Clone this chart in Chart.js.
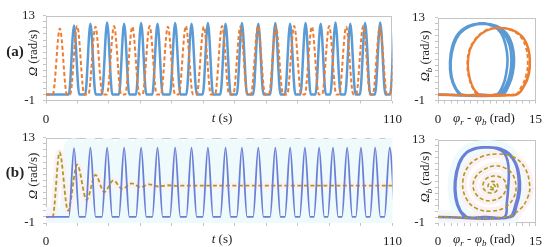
<!DOCTYPE html>
<html>
<head>
<meta charset="utf-8">
<script src="https://cdn.jsdelivr.net/npm/chart.js@4.4.1/dist/chart.umd.min.js"></script>
<style>
  body { margin: 0; width: 550px; height: 247px; background: #fff; position: relative; overflow: hidden;
         font-family: "Liberation Serif", "DejaVu Serif", serif; color: #222; }
  canvas { position: absolute; }
  .lbl { position: absolute; font-size: 13px; line-height: 1; white-space: nowrap; transform: translate(-50%, -50%); }
  .rot { transform: translate(-50%, -50%) rotate(-90deg); }
  .tag { font-weight: bold; font-size: 15px; }
  sub { font-size: 9px; vertical-align: -3px; line-height: 0; }
</style>
</head>
<body>
<canvas id="timeA" width="410" height="124" style="left:0;top:0"></canvas>
<canvas id="phaseA" width="145" height="124" style="left:405px;top:0"></canvas>
<canvas id="timeB" width="410" height="124" style="left:0;top:121.5px"></canvas>
<canvas id="phaseB" width="145" height="124" style="left:405px;top:121.5px"></canvas>

<div class="lbl tag" style="left:15px;top:51px">(a)</div>
<div class="lbl rot" style="left:32px;top:53px"><i>Ω</i> (rad/s)</div>
<div class="lbl" style="left:222px;top:117px"><i>t</i> (s)</div>
<div class="lbl rot" style="left:424px;top:56px"><i>Ω<sub>b</sub></i> (rad/s)</div>
<div class="lbl" style="left:484px;top:117px"><i>φ<sub>r</sub></i> - <i>φ<sub>b</sub></i> (rad)</div>

<div class="lbl tag" style="left:15px;top:172px">(b)</div>
<div class="lbl rot" style="left:32px;top:176px"><i>Ω</i> (rad/s)</div>
<div class="lbl" style="left:222px;top:238px"><i>t</i> (s)</div>
<div class="lbl rot" style="left:424px;top:177px"><i>Ω<sub>b</sub></i> (rad/s)</div>
<div class="lbl" style="left:484px;top:238px"><i>φ<sub>r</sub></i> - <i>φ<sub>b</sub></i> (rad)</div>

<script>
// ---- data ----

// (a) time response: peak times (s) and peak speeds (rad/s) of each swing
const aBluePeakT = [8.9, 14.1, 19.4, 24.8, 30.2, 35.4, 41.0, 46.2, 51.4, 57.0, 62.2, 67.4, 72.8,
                    77.5, 82.4, 87.2, 91.9, 96.6, 101.3, 106.1, 110.9];
const aBluePeakV = [11.4, 11.7, 11.9, 11.7, 11.8, 11.7, 11.8, 11.7, 11.8, 11.7, 11.8, 11.7, 11.8,
                    11.7, 11.8, 11.7, 11.9, 11.7, 11.8, 11.9, 11.8];
const aBlueHalf = 1.65;     // time from rest to peak
const aOrangePeakT = [4.4, 9.9, 15.7, 21.6, 27.4, 32.9, 38.7, 44.4, 50.1, 55.9, 61.7, 67.3, 73.0,
                      78.8, 84.4, 89.9, 95.3, 100.7, 106.0, 111.4];
const aOrangePeakV = [10.9, 11.3, 11.2, 11.3, 11.2, 11.3, 11.2, 11.3, 11.2, 11.3, 11.2, 11.3, 11.2,
                      11.3, 11.2, 11.3, 11.2, 11.3, 11.2, 11.3];
const aOrangeHalf = 2.25;

// (b) time response
const bBluePeakT = [8.9, 14.1, 19.4, 24.8, 30.2, 35.4, 41.0, 46.2, 51.4, 57.0, 62.2, 67.4, 72.8,
                    77.5, 82.2, 86.7, 91.1, 95.6, 100.0, 104.5, 109.1];
const bBluePeakV = [11.3, 11.4, 11.4, 11.4, 11.4, 11.4, 11.4, 11.4, 11.4, 11.4, 11.4, 11.4, 11.4,
                    11.4, 11.4, 11.4, 11.4, 11.4, 11.4, 11.4, 11.4];
const bBlueHalf = 1.65;
const bOliveT = [0, 2.1, 4.3, 7.0, 9.9, 12.9, 15.7, 18.5, 21.4, 24.2, 27.2, 30.0, 32.8, 35.7, 38.6, 41.5, 44.5, 110];
const bOliveV = [0, 0, 10.6, 1.0, 8.6, 2.8, 6.9, 4.1, 6.0, 4.6, 5.5, 4.9, 5.35, 5.0, 5.2, 5.1, 5.15, 5.15];

// (a) phase portrait, [phi_r - phi_b, Omega_b]
const aPhaseBlue = [[0,0],[9.8,0],[10.9,1.6],[11.5,3.6],[11.7,6.0],[11.4,8.4],[10.5,10.4],[9.0,11.6],[7.0,12.0],
  [5.0,11.6],[3.4,10.4],[2.4,8.3],[1.95,5.6],[2.1,3.0],[2.7,1.2],[3.6,0],[6.5,0],[9.0,0],[10.0,1.6],[10.5,3.6],
  [10.7,6.0],[10.4,8.4],[9.7,10.4],[8.5,11.6],[6.6,12.0],[4.6,11.6],[3.1,10.3],[2.2,8.2],[1.85,5.6],[2.0,3.0],
  [2.6,1.2],[3.5,0],[6.5,0],[9.4,0],[10.5,1.6],[11.1,3.6],[11.3,6.0],[11.0,8.4],[10.1,10.4],[8.8,11.6],[6.8,12.0],
  [4.8,11.6],[3.2,10.4],[2.3,8.3],[1.9,5.6],[2.05,3.0],[2.65,1.2],[3.55,0]];
const aPhaseOrange = [[0,0],[12.0,0],[13.2,1.5],[13.9,3.5],[14.1,5.8],[13.8,8.0],[12.9,9.9],[11.3,11.0],[9.2,11.3],
  [7.4,10.8],[5.9,9.5],[4.9,7.5],[4.6,5.0],[4.9,2.7],[5.5,1.0],[6.3,0],[9.0,0],[12.1,0],[13.3,1.5],[14.0,3.5],
  [14.15,5.8],[13.85,8.0],[12.9,9.9],[11.3,11.0],[9.2,11.3],[7.4,10.8],[5.9,9.5],[4.9,7.5],[4.6,5.0],[4.9,2.7],
  [5.5,1.0],[6.3,0]];
const aPhaseOrangeDash = [[0,0],[11.7,0],[12.9,1.5],[13.6,3.5],[13.8,5.8],[13.5,8.0],[12.6,9.9],[11.0,11.0],[9.0,11.3],
  [7.2,10.8],[5.8,9.5],[4.8,7.5],[4.5,5.0],[4.8,2.7],[5.4,1.0],[6.2,0],[9.0,0],[11.8,0]];

// (b) phase portrait
const bPhaseBlue = [[0,0],[11.2,0],[12.1,2.0],[12.6,4.5],[12.5,7.0],[12.0,9.0],[11.0,10.6],[9.6,11.5],[7.8,11.7],
  [6.0,11.6],[4.4,10.8],[3.3,9.0],[2.7,6.0],[2.8,3.2],[3.4,1.2],[4.4,0],[7.0,0],[10.2,0],[10.6,2.5],[10.8,5.0],
  [10.9,7.5],[10.7,9.5],[10.1,10.9],[9.1,11.5],[7.7,11.7],[5.9,11.6],[4.3,10.8],[3.2,9.0],[2.6,6.0],[2.7,3.2],
  [3.3,1.2],[4.3,0],[7.5,0],[11.0,0],[11.9,2.0],[12.4,4.5],[12.35,7.0],[11.9,9.0],[10.9,10.6],[9.5,11.5],[7.7,11.75],
  [5.9,11.6],[4.3,10.8],[3.2,9.0],[2.6,6.0],[2.75,3.2],[3.35,1.2],[4.4,0]];
const bPhaseOlive = [[0,0],[10.5,0],[12.6,1.3],[13.8,3.3],[14.1,5.4],[13.3,8.4],[11.6,10.1],[9.2,10.6],[6.6,10.1],
  [4.7,8.6],[3.8,5.8],[4.4,3.0],[6.0,1.4],[8.2,1.0],[10.3,1.6],[11.6,3.2],[12.0,5.1],[11.4,7.3],[10.0,8.4],[8.6,8.6],
  [7.1,8.0],[5.9,6.9],[5.4,5.3],[5.9,3.8],[7.0,2.9],[8.4,2.8],[9.6,3.3],[10.3,4.2],[10.5,5.2],[10.2,6.2],[9.4,6.8],
  [8.5,6.9],[7.6,6.6],[7.1,6.0],[6.9,5.2],[7.2,4.5],[7.8,4.1],[8.5,4.1],[9.0,4.4],[9.2,5.1],[9.0,5.7],[8.5,6.0],
  [8.0,5.8],[7.7,5.3],[7.9,4.8],[8.4,4.6],[8.75,4.9],[8.75,5.3],[8.45,5.5],[8.15,5.3],[8.2,5.0],[8.45,4.9],[8.6,5.1],[8.45,5.2]];

// axis ranges and labelled ticks
const omegaRange = [-1, 13];
const omegaLabels = [-1, 13];
const timeRange = [0, 110];
const timeLabels = [0, 110];
const phaseRange = [0, 15];
const phaseLabels = [0, 15];

// ---- helpers ----
function pulses(peakT, peakV, half) {
  const pts = [{ x: 0, y: 0 }];
  peakT.forEach((t, i) => {
    pts.push({ x: t - half, y: 0 }, { x: t, y: peakV[i] }, { x: t + half, y: 0 });
  });
  return pts;
}
const toXY = arr => arr.map(p => ({ x: p[0], y: p[1] }));
const zip = (xs, ys) => xs.map((x, i) => ({ x: x, y: ys[i] }));

const framePlugin = {
  id: 'frame',
  beforeDatasetsDraw(chart) {
    const a = chart.chartArea;
    const ctx = chart.ctx;
    ctx.save();
    ctx.strokeStyle = '#c4c4c4';
    ctx.lineWidth = 1;
    ctx.strokeRect(Math.round(a.left) + 0.5, Math.round(a.top) + 0.5,
                   Math.round(a.right - a.left) - 1, Math.round(a.bottom - a.top) - 1);
    ctx.restore();
  }
};

// the scale boxes get a fixed size so the plot areas line up with the figure
function axis(range, step, shown, size, horizontal, pad) {
  return {
    type: 'linear', min: range[0], max: range[1],
    ticks: {
      stepSize: step, autoSkip: false, maxRotation: 0, padding: pad, color: '#222',
      font: { family: '"Liberation Serif"', size: 13 },
      callback: v => shown.includes(v) ? String(v) : ''
    },
    grid: { drawOnChartArea: false, drawTicks: true, tickLength: 3, color: '#c4c4c4' },
    border: { display: false },
    afterFit: s => { if (horizontal) s.height = size; else s.width = size; }
  };
}

function makeChart(id, datasets, xAxis, yAxis, padding) {
  return new Chart(document.getElementById(id), {
    type: 'scatter',
    data: { datasets: datasets },
    options: {
      responsive: false, animation: false, events: [],
      layout: { padding: padding },
      plugins: { legend: { display: false }, tooltip: { enabled: false } },
      elements: { point: { radius: 0 } },
      scales: { x: xAxis, y: yAxis }
    },
    plugins: [framePlugin]
  });
}

function line(data, color, width, dash, smooth) {
  return {
    data: data, showLine: true, borderColor: color, borderWidth: width, borderDash: dash || [],
    pointRadius: 0, fill: false,
    cubicInterpolationMode: smooth === 'mono' ? 'monotone' : 'default',
    tension: smooth === 'mono' ? 0 : 0.4,
    borderCapStyle: 'butt', borderJoinStyle: 'round'
  };
}

const BLUE_A = '#5b9bd5', ORANGE_A = '#ed7d31';
const BLUE_B = '#6b7fd7', OLIVE_B = '#a69f1a';
const GLOW_CYAN = '#eefafb', GLOW_PINK = '#fcf0f4';

// ---- (a) ----
makeChart('timeA', [
  line(pulses(aOrangePeakT, aOrangePeakV, aOrangeHalf), ORANGE_A, 2, [4, 2.5], 'mono'),
  line(pulses(aBluePeakT, aBluePeakV, aBlueHalf), BLUE_A, 2.5, null, 'mono')
],
  axis(timeRange, 10, timeLabels, 23.5, true, 8),
  axis(omegaRange, 1, omegaLabels, 46, false, 8),
  { left: 0, right: 13, top: 7.5, bottom: 0 });

makeChart('phaseA', [
  line(toXY(aPhaseOrangeDash), ORANGE_A, 1.8, [4, 2.5]),
  line(toXY(aPhaseOrange), ORANGE_A, 2.2),
  line(toXY(aPhaseBlue), BLUE_A, 2.6)
],
  axis(phaseRange, 1, phaseLabels, 23.5, true, 8),
  axis(omegaRange, 1, omegaLabels, 33, false, 10),
  { left: 0, right: 10, top: 7.5, bottom: 0 });

// ---- (b) ----
makeChart('timeB', [
  line(pulses(bBluePeakT, bBluePeakV, bBlueHalf), BLUE_B, 1.8, null, 'mono'),
  line(zip(bOliveT, bOliveV), OLIVE_B, 1.8, [4, 2.5], 'mono'),
  line(zip(bOliveT, bOliveV), GLOW_PINK, 7, null, 'mono'),
  line(pulses(bBluePeakT, bBluePeakV, bBlueHalf), GLOW_CYAN, 20, null, 'mono')
],
  axis(timeRange, 10, timeLabels, 23, true, 8),
  axis(omegaRange, 1, omegaLabels, 46, false, 8),
  { left: 0, right: 13, top: 7.5, bottom: 0 });

makeChart('phaseB', [
  line(toXY(bPhaseOlive), OLIVE_B, 1.6, [4, 2.5]),
  line(toXY(bPhaseBlue), BLUE_B, 2.6),
  line(toXY(bPhaseOlive), GLOW_PINK, 8),
  line(toXY(bPhaseBlue), GLOW_CYAN, 14)
],
  axis(phaseRange, 1, phaseLabels, 23, true, 8),
  axis(omegaRange, 1, omegaLabels, 33, false, 10),
  { left: 0, right: 10, top: 7.5, bottom: 0 });
</script>
</body>
</html>
